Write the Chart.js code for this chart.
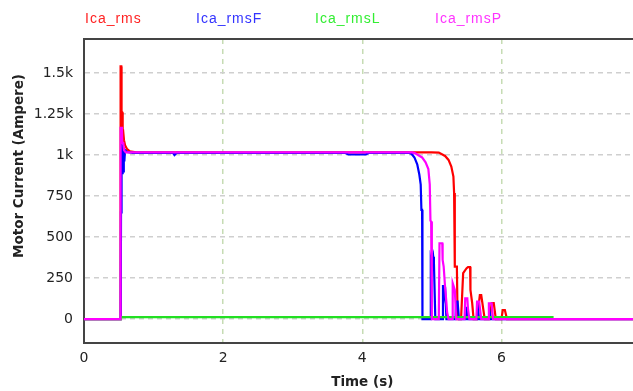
<!DOCTYPE html>
<html>
<head>
<meta charset="utf-8">
<script src="https://cdn.jsdelivr.net/npm/chart.js@4/dist/chart.umd.min.js"></script>
<style>
html,body{margin:0;padding:0;background:#fff;overflow:hidden;width:633px;height:391px;}
#wrap{position:relative;width:652px;height:391px;}
</style>
</head>
<body>
<div id="wrap"><canvas id="c" width="652" height="391"></canvas></div>
<script>
// ---- data ----
const seriesNames = ["Ica_rms", "Ica_rmsF", "Ica_rmsL", "Ica_rmsP"];

const rmsTime = [0, 0.522, 0.526, 0.536, 0.540, 0.548, 0.556, 0.562, 0.575, 0.59, 0.62, 0.66, 0.75, 1.5, 2.5, 3.5, 4.5, 5.0, 5.10, 5.19, 5.24, 5.28, 5.31, 5.32, 5.33, 5.36, 5.37, 5.42, 5.45, 5.50, 5.52, 5.55, 5.555, 5.58, 5.60, 5.65, 5.69, 5.71, 5.76, 5.83, 5.86, 5.89, 5.92, 6.0, 6.02, 6.05, 6.08, 8];
const rmsValues = [0, 0, 1540, 1540, 1260, 1260, 1150, 1150, 1090, 1060, 1035, 1022, 1016, 1016, 1015, 1016, 1016, 1016, 1015, 994, 970, 929, 868, 768, 319, 319, 0, 0, 280, 310, 317, 317, 177, 97, 0, 0, 146, 146, 0, 0, 97, 97, 0, 0, 55, 55, 0, 0];

const rmsFTime = [0, 0.528, 0.532, 0.540, 0.548, 0.556, 0.564, 0.572, 0.58, 0.59, 0.62, 0.7, 1.28, 1.30, 1.33, 2.5, 3.75, 3.8, 4.05, 4.1, 4.5, 4.67, 4.71, 4.75, 4.79, 4.82, 4.84, 4.85, 4.86, 4.865, 4.98, 4.985, 5.0, 5.02, 5.03, 5.05, 5.15, 5.16, 5.18, 5.19, 5.21, 5.22, 5.34, 5.35, 5.37, 5.39, 5.49, 5.505, 5.52, 5.65, 5.665, 5.68, 5.82, 5.835, 5.85, 8];
const rmsFValues = [0, 0, 650, 1073, 890, 1060, 900, 1045, 960, 1030, 1018, 1013, 1013, 1000, 1013, 1013, 1013, 1003, 1003, 1013, 1013, 1013, 1006, 985, 943, 881, 820, 665, 665, 0, 0, 360, 330, 380, 340, 0, 0, 207, 150, 197, 0, 0, 0, 106, 106, 0, 0, 75, 0, 0, 55, 0, 0, 35, 0, 0];

const rmsLTime = [0, 0.53, 0.531, 6.75];
const rmsLValues = [0, 0, 12, 12];

const rmsPTime = [0, 0.522, 0.526, 0.545, 0.55, 0.565, 0.575, 0.6, 0.65, 2, 4, 4.72, 4.76, 4.86, 4.91, 4.95, 4.97, 4.98, 4.99, 5.0, 5.10, 5.11, 5.15, 5.155, 5.17, 5.19, 5.21, 5.22, 5.24, 5.29, 5.30, 5.33, 5.35, 5.47, 5.48, 5.51, 5.52, 5.54, 5.64, 5.65, 5.68, 5.71, 5.81, 5.82, 5.86, 5.88, 8];
const rmsPValues = [0, 0, 1165, 1165, 1073, 1073, 1030, 1016, 1016, 1016, 1016, 1016, 1010, 985, 955, 914, 820, 600, 595, 0, 0, 462, 462, 360, 320, 197, 97, 40, 0, 0, 218, 177, 0, 0, 126, 126, 60, 0, 0, 106, 106, 0, 0, 96, 96, 0, 0];

const xTickValues = [0, 2, 4, 6, 8];
const yTickValues = [0, 250, 500, 750, 1000, 1250, 1500];

// ---- chart ----
function pts(ts, vs) { return ts.map((t, i) => ({ x: t, y: vs[i] })); }
const colors = ["#ff0000", "#0000ff", "#22e022", "#ff00ff"];
const legendColors = ["#ff2222", "#3333ff", "#33ee33", "#ff33ff"];
const legendX = [85, 196, 315, 435];
const tickFont = '"DejaVu Sans", Verdana, sans-serif';

const extrasPlugin = {
  id: 'extras',
  afterDraw(chart) {
    const ctx = chart.ctx, a = chart.chartArea;
    ctx.save();
    // top border of plot frame
    ctx.strokeStyle = '#444';
    ctx.lineWidth = 2;
    ctx.beginPath();
    ctx.moveTo(a.left - 1, a.top);
    ctx.lineTo(a.right + 5, a.top);
    ctx.stroke();
    // legend text
    ctx.font = '14px "Liberation Sans", Arial, sans-serif';
    ctx.textBaseline = 'middle';
    ctx.textAlign = 'left';
    try { ctx.letterSpacing = '1px'; } catch (e) {}
    chart.data.datasets.forEach((ds, i) => {
      ctx.fillStyle = legendColors[i];
      ctx.fillText(ds.label, legendX[i], 19);
    });
    try { ctx.letterSpacing = '0px'; } catch (e) {}
    // y axis title
    ctx.font = 'bold 13.5px ' + tickFont;
    ctx.fillStyle = '#222';
    ctx.textAlign = 'center';
    ctx.translate(19, 166);
    ctx.rotate(-Math.PI / 2);
    ctx.fillText('Motor Current (Ampere)', 0, 0);
    ctx.restore();
  }
};

const order = [3, 2, 1, 0];
const times = [rmsTime, rmsFTime, rmsLTime, rmsPTime];
const vals = [rmsValues, rmsFValues, rmsLValues, rmsPValues];

new Chart(document.getElementById('c'), {
  type: 'line',
  data: {
    datasets: seriesNames.map((n, i) => ({
      label: n,
      data: pts(times[i], vals[i]),
      borderColor: colors[i],
      backgroundColor: colors[i],
      borderWidth: 2.2,
      pointRadius: 0,
      tension: 0,
      fill: false,
      order: order[i]
    }))
  },
  options: {
    responsive: false,
    animation: false,
    events: [],
    layout: { padding: { top: 39, left: 0, right: 5, bottom: 0 } },
    plugins: { legend: { display: false }, tooltip: { enabled: false } },
    scales: {
      x: {
        type: 'linear',
        min: 0, max: 8,
        afterBuildTicks: s => { s.ticks = xTickValues.map(v => ({ value: v })); },
        afterFit: s => { s.height = 48; },
        grid: { color: '#c6dcb4', lineWidth: 1.5, drawTicks: false },
        border: { display: true, color: '#444', width: 2, dash: [5, 5] },
        ticks: { padding: 7, color: '#222', font: { family: tickFont, size: 14 }, maxRotation: 0 },
        title: { display: true, text: 'Time (s)', color: '#222', padding: { top: 0, bottom: 0 }, font: { family: tickFont, size: 13.5, weight: 'bold' } }
      },
      y: {
        type: 'linear',
        min: -146, max: 1707,
        afterBuildTicks: s => { s.ticks = yTickValues.map(v => ({ value: v })); },
        afterFit: s => { s.width = 84; },
        grid: { color: '#cfcfcf', lineWidth: 1.5, drawTicks: false },
        border: { display: true, color: '#444', width: 2, dash: [5, 4] },
        ticks: {
          padding: 11, color: '#222',
          font: { family: tickFont, size: 14 },
          callback: v => v >= 1000 ? (v / 1000) + 'k' : String(v)
        }
      }
    }
  },
  plugins: [extrasPlugin]
});
</script>
</body>
</html>
